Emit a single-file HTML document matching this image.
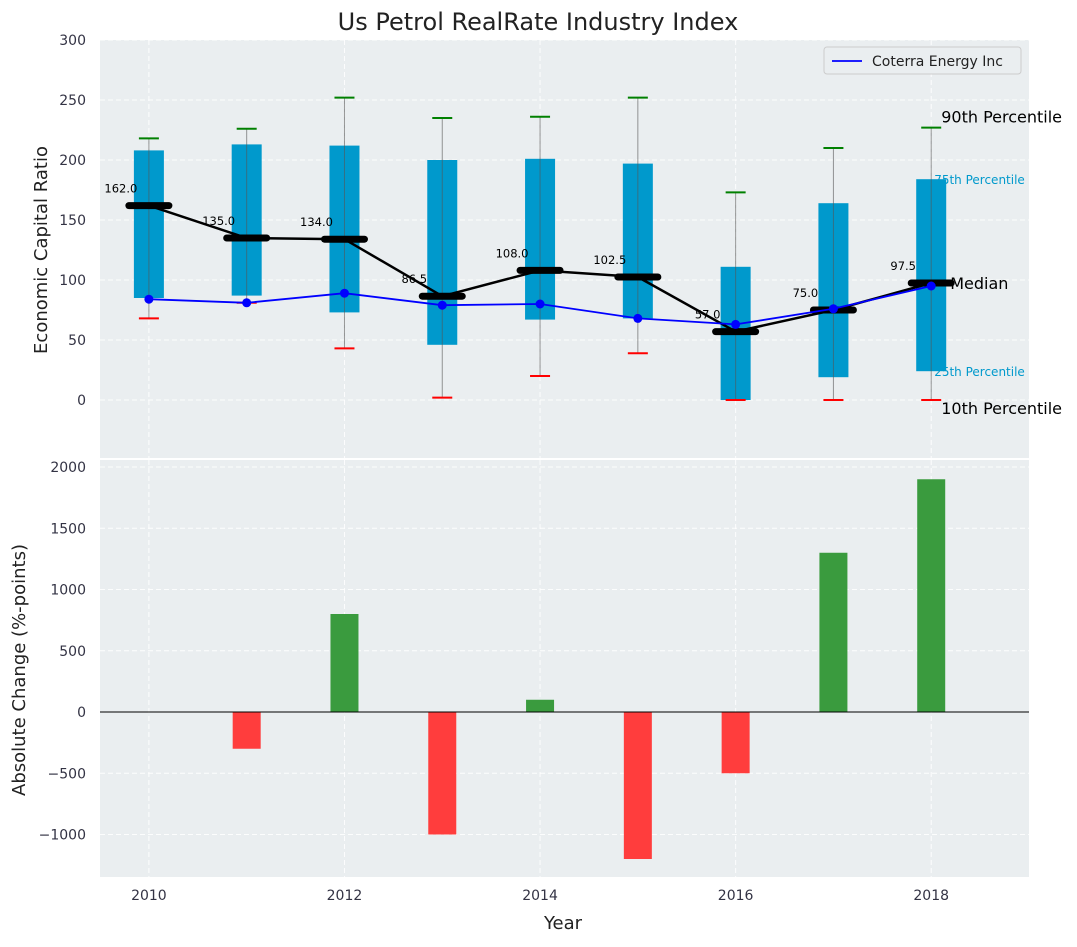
<!DOCTYPE html>
<html><head><meta charset="utf-8"><style>
body{margin:0;background:#fff;font-family:"Liberation Sans","DejaVu Sans",sans-serif}
svg text{font-family:"DejaVu Sans","Liberation Sans",sans-serif}
</style></head><body>
<svg id="c" width="1077" height="942"></svg>
<script>
const years=[2010,2011,2012,2013,2014,2015,2016,2017,2018];
const q1=[85,87,73,46,67,68,0,19,24];
const q3=[208,213,212,200,201,197,111,164,184];
const p10=[68,81,43,2,20,39,0,0,0];
const p90=[218,226,252,235,236,252,173,210,227];
const medians=[162,135,134,86.5,108,102.5,57,75,97.5];
const coterra=[84,81,89,79,80,68,63,76,95];
const changes=[0,-300,800,-1000,100,-1200,-500,1300,1900];
const topTicks=[0,50,100,150,200,250,300];
const botTicks=[-1000,-500,0,500,1000,1500,2000];
const xTicks=[2010,2012,2014,2016,2018];

const svg=document.getElementById('c');const NS='http://www.w3.org/2000/svg';
function el(t,a,p){const e=document.createElementNS(NS,t);for(const k in a)e.setAttribute(k,a[k]);(p||svg).appendChild(e);return e;}
const L=100,R=1029;
const x=v=>L+(v-2009.5)*(R-L)/9.5;
const yT=v=>400-v*1.2;
const yB=v=>712-v*0.1225;
let bg=el('rect',{x:L,y:40,width:R-L,height:418,fill:'#eaeef0'});


let bg2=el('rect',{x:L,y:460,width:R-L,height:417,fill:'#eaeef0'});


const gs={stroke:'#fff','stroke-dasharray':'5,3','stroke-width':1,opacity:0.9};
xTicks.forEach(v=>{el('line',Object.assign({x1:x(v),x2:x(v),y1:40,y2:458},gs));el('line',Object.assign({x1:x(v),x2:x(v),y1:460,y2:877},gs));});
topTicks.forEach(v=>{el('line',Object.assign({x1:L,x2:R,y1:yT(v),y2:yT(v)},gs));});
botTicks.forEach(v=>{el('line',Object.assign({x1:L,x2:R,y1:yB(v),y2:yB(v)},gs));});
const lx=x(2018);
// small annotations drawn under boxes
[['75th Percentile',q3[8]],['25th Percentile',q1[8]]].forEach(a=>{const t=el('text',{x:lx+3,y:yT(a[1])+5,'font-size':12,fill:'#0099cc'});t.textContent=a[0];
 });
const hw=15;
years.forEach((yr,i)=>{const cx=x(yr);
 const b=el('rect',{x:cx-hw,y:yT(q3[i]),width:2*hw,height:yT(q1[i])-yT(q3[i]),fill:'#0099cc'});
 
 el('line',{x1:cx,x2:cx,y1:yT(p90[i]),y2:yT(p10[i]),stroke:'#555','stroke-width':1,opacity:0.6});
 el('line',{x1:cx-10,x2:cx+10,y1:yT(p90[i]),y2:yT(p90[i]),stroke:'green','stroke-width':2});
 el('line',{x1:cx-10,x2:cx+10,y1:yT(p10[i]),y2:yT(p10[i]),stroke:'red','stroke-width':2});
});
el('polyline',{points:years.map((yr,i)=>x(yr)+','+yT(medians[i])).join(' '),fill:'none',stroke:'#000','stroke-width':2.5});
years.forEach((yr,i)=>{const cx=x(yr);
 const m=el('line',{x1:cx-20,x2:cx+20,y1:yT(medians[i]),y2:yT(medians[i]),stroke:'#000','stroke-width':7,'stroke-linecap':'round'});
 
 const t=el('text',{x:cx-28,y:yT(medians[i])-13,'text-anchor':'middle','font-size':11.5,fill:'#000'});t.textContent=medians[i].toFixed(1);
 });
el('polyline',{points:years.map((yr,i)=>x(yr)+','+yT(coterra[i])).join(' '),fill:'none',stroke:'#0000ff','stroke-width':1.8});
years.forEach((yr,i)=>{const p=el('circle',{cx:x(yr),cy:yT(coterra[i]),r:4.5,fill:'#0000ff'});
 });
years.forEach((yr,i)=>{if(!changes[i])return;const v=changes[i];
 const b=el('rect',{x:x(yr)-14,y:Math.min(yB(v),yB(0)),width:28,height:Math.abs(yB(v)-yB(0)),fill:v>0?'#3a9b3e':'#ff3d3d'});
 });
el('line',{x1:L,x2:R,y1:yB(0),y2:yB(0),stroke:'#000','stroke-width':1});
el('rect',{x:0,y:0,width:1077,height:40,fill:'#fff'});el('rect',{x:R,y:40,width:48,height:840,fill:'#fff'});
el('rect',{x:L,y:458,width:R-L,height:2,fill:'#fff'});
// big annotations
[['90th Percentile',p90[8],-5],['Median',medians[8],6],['10th Percentile',p10[8],14]].forEach(a=>{const t=el('text',{x:a[0]=='Median'?lx+19:lx+10,y:yT(a[1])+a[2],'font-size':16,fill:'#000'});t.textContent=a[0];
 });
xTicks.forEach(v=>{const t=el('text',{x:x(v),y:900,'text-anchor':'middle','font-size':14,fill:'#334'});t.textContent=v;
 });
topTicks.forEach(v=>{const t=el('text',{x:86,y:yT(v)+5,'text-anchor':'end','font-size':14,fill:'#334'});t.textContent=v;
 });
botTicks.forEach(v=>{const t=el('text',{x:86,y:yB(v)+5,'text-anchor':'end','font-size':14,fill:'#334'});t.textContent=v<0?'\u2212'+(-v):v;
 });
const lg=el('g',{});
el('rect',{x:824,y:47,width:197,height:27,rx:3,fill:'#eaeef0',stroke:'#ccc'},lg);
el('line',{x1:832,x2:862,y1:61,y2:61,stroke:'#0000ff','stroke-width':1.8},lg);
const lt=el('text',{x:872,y:66,'font-size':14,fill:'#222'},lg);lt.textContent='Coterra Energy Inc';
let t=el('text',{x:538,y:30,'text-anchor':'middle','font-size':24,fill:'#222'});t.textContent='Us Petrol RealRate Industry Index';

t=el('text',{x:563,y:929,'text-anchor':'middle','font-size':18,fill:'#222'});t.textContent='Year';

t=el('text',{x:0,y:0,'text-anchor':'middle','font-size':18,fill:'#222',transform:'translate(47,250) rotate(-90)'});t.textContent='Economic Capital Ratio';

t=el('text',{x:0,y:0,'text-anchor':'middle','font-size':18,fill:'#222',transform:'translate(25,670) rotate(-90)'});t.textContent='Absolute Change (%-points)';

</script></body></html>
